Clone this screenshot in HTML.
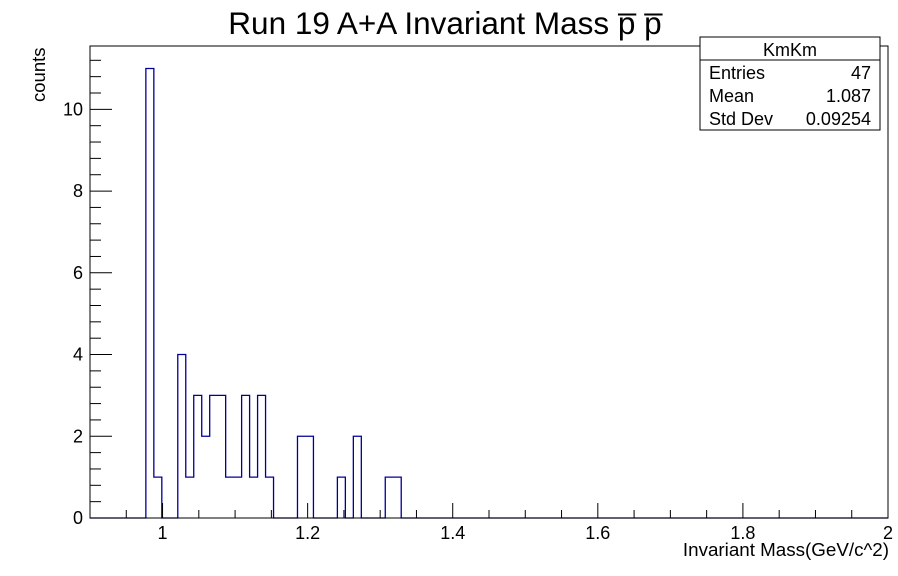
<!DOCTYPE html>
<html><head><meta charset="utf-8"><style>
body{margin:0;background:#fff;}
svg{display:block;font-family:"Liberation Sans",Arial,sans-serif;}
</style></head><body>
<svg id="c" width="898" height="576">
<rect x="0" y="0" width="898" height="576" fill="#fff"/>
<text x="445" y="34" font-size="31.5" text-anchor="middle">Run 19 A+A Invariant Mass p̅ p̅</text>
<path id="hist" fill="none" stroke="#000099" stroke-width="1.3"/>
<rect x="90" y="46" width="798" height="472" fill="none" stroke="#000" stroke-width="1"/>
<g id="xt"></g>
<g id="yt"></g>
<text x="889" y="556" font-size="18.8" text-anchor="end">Invariant Mass(GeV/c^2)</text>
<text transform="translate(45,102) rotate(-90)" font-size="18.5">counts</text>
<g>
<rect x="700" y="37" width="180" height="93" fill="#fff" stroke="#000"/>
<line x1="700" y1="60" x2="880" y2="60" stroke="#000"/>
<text x="790" y="56" font-size="18" text-anchor="middle">KmKm</text>
<text x="709" y="79" font-size="18">Entries</text><text x="871" y="79" font-size="18" text-anchor="end">47</text>
<text x="709" y="102" font-size="18">Mean</text><text x="871" y="102" font-size="18" text-anchor="end">1.087</text>
<text x="709" y="125" font-size="18">Std Dev</text><text x="871" y="125" font-size="18" text-anchor="end">0.09254</text>
</g>
</svg>
<script>
const xMin=0.9, xMax=2.0, nBins=100;
const binIndex=[7,8,11,12,13,14,15,16,17,18,19,20,21,22,26,27,31,33,37,38];
const binCounts=[11,1,4,1,3,2,3,3,1,1,3,1,3,1,2,2,1,2,1,1];
const xTickLabels=["1","1.2","1.4","1.6","1.8","2"];
const yTickLabels=["0","2","4","6","8","10"];
const yMax=11.55;
const L=90,R=888,T=46,B=518;
const sx=v=>L+(v-xMin)/(xMax-xMin)*(R-L);
const sy=v=>B-v/yMax*(B-T);
const NS="http://www.w3.org/2000/svg";
function mk(tag,attrs,parent){const e=document.createElementNS(NS,tag);for(const k in attrs)e.setAttribute(k,attrs[k]);parent.appendChild(e);return e;}
const counts=new Array(nBins).fill(0);
binIndex.forEach((b,i)=>counts[b]=binCounts[i]);
const w=(xMax-xMin)/nBins;
let d="M"+sx(xMin)+","+sy(0);
for(let i=0;i<nBins;i++){const x0=sx(xMin+i*w),x1=sx(xMin+(i+1)*w),y=sy(counts[i]);d+=" L"+x0+","+y+" L"+x1+","+y;}
d+=" L"+sx(xMax)+","+sy(0);
document.getElementById("hist").setAttribute("d",d);
const xt=document.getElementById("xt");
mk("line",{x1:L,x2:R,y1:B,y2:B,stroke:"#000"},xt);
for(let k=0;k<=22;k++){const v=0.9+k*0.05;const x=sx(v);const r=Math.round(v*100)%20;const major=(r===0);
 const ln=mk("line",{x1:x,x2:x,y1:B,y2:B-(major?15:8),stroke:"#000"},xt);
 
 }
xTickLabels.forEach(s=>{const t=mk("text",{x:sx(parseFloat(s)),y:539,"font-size":18,"text-anchor":"middle"},xt);t.textContent=s;
 
 });
const yt=document.getElementById("yt");
for(let k=0;k*0.4<=yMax;k++){const v=k*0.4;const y=sy(v);const major=k%5==0;
 const ln=mk("line",{x1:L,x2:L+(major?22:11),y1:y,y2:y,stroke:"#000"},yt);
 
 }
yTickLabels.forEach(s=>{const t=mk("text",{x:83,y:sy(parseFloat(s))+6,"font-size":18,"text-anchor":"end"},yt);t.textContent=s;
 
 });
</script>
</body></html>
